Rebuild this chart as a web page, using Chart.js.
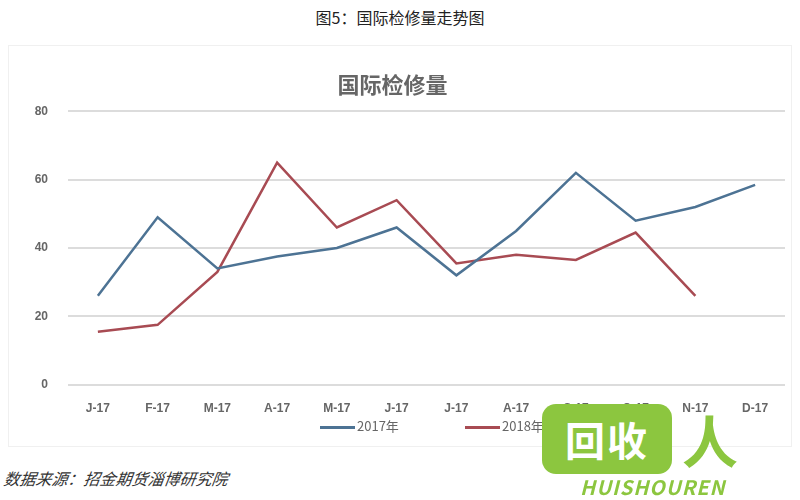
<!DOCTYPE html>
<html><head><meta charset="utf-8">
<script src="https://cdn.jsdelivr.net/npm/chart.js@4/dist/chart.umd.min.js"></script>
<style>
html,body{margin:0;padding:0;background:#fff;width:800px;height:500px;overflow:hidden;font-family:"Noto Sans CJK SC","Noto Sans",sans-serif;}
#hdr{position:absolute;left:0;top:5px;width:800px;text-align:center;font-size:16px;color:#222;}
#frame{position:absolute;left:8px;top:45px;width:782px;height:400px;border:1px solid #f0f0f0;}
#wrap{position:absolute;left:0;top:55px;width:800px;height:372px;}
#src{position:absolute;left:4px;top:466px;font-size:16px;font-style:italic;color:#333;transform:skewX(-8deg);}
.lg{position:absolute;top:417px;font-size:13px;color:#666;line-height:18px;}
.lg i{display:inline-block;width:35px;height:3px;vertical-align:middle;margin-right:2px;}
#logo{position:absolute;left:542px;top:404px;width:130px;height:70px;background:#8cc63f;border-radius:14px;color:#fff;font-size:40px;font-weight:bold;line-height:70px;text-align:center;letter-spacing:2px;}
#ren{position:absolute;left:682px;top:398px;font-size:56px;color:#8cc63f;font-weight:bold;}
#hs{position:absolute;left:580px;top:472px;font-size:20px;color:#8cc63f;font-weight:bold;font-style:italic;letter-spacing:1px;}
</style></head>
<body>
<div id="hdr">图5：国际检修量走势图</div>
<div id="frame"></div>
<div id="wrap"><canvas id="c" width="800" height="372"></canvas></div>
<div class="lg" id="lg1" style="left:320px"><i style="background:#4d7394"></i><span></span></div>
<div class="lg" id="lg2" style="left:465px"><i style="background:#a84b53"></i><span></span></div>
<div id="src">数据来源：招金期货淄博研究院</div>
<div id="logo">回收</div>
<div id="ren">人</div>
<div id="hs">HUISHOUREN</div>
<script>
const categories = ["J-17","F-17","M-17","A-17","M-17","J-17","J-17","A-17","S-17","O-17","N-17","D-17"];
const series2017 = [26, 49, 34, 37.5, 40, 46, 32, 45, 62, 48, 52, 58.5];
const series2018 = [15.5, 17.5, 33, 65, 46, 54, 35.5, 38, 36.5, 44.5, 26, null];
const seriesNames = ["2017年", "2018年"];
const seriesColors = ['#4d7394', '#a84b53'];
const yTicks = [0, 20, 40, 60, 80];

document.querySelector('#lg1 span').textContent = seriesNames[0];
document.querySelector('#lg2 span').textContent = seriesNames[1];

new Chart(document.getElementById('c'), {
  type: 'line',
  data: {
    labels: categories,
    datasets: [
      {label: seriesNames[0], data: series2017, borderColor: seriesColors[0], backgroundColor: seriesColors[0], borderWidth: 2.5, pointRadius: 0, tension: 0},
      {label: seriesNames[1], data: series2018, borderColor: seriesColors[1], backgroundColor: seriesColors[1], borderWidth: 2.5, pointRadius: 0, tension: 0}
    ]
  },
  options: {
    responsive: false,
    animation: false,
    layout: {padding: {left: 0, right: 15, top: 0, bottom: 2}},
    plugins: {
      title: {display: true, text: '国际检修量', color: '#666', font: {size: 22, weight: 'bold', family: '"Noto Sans CJK SC"'}, padding: {top: 16, bottom: 14}},
      legend: {display: false},
      tooltip: {enabled: false}
    },
    scales: {
      x: {
        offset: true,
        grid: {display: false},
        border: {display: false},
        ticks: {color: '#666', font: {size: 12, weight: 'bold'}, maxRotation: 0, autoSkip: false, padding: 9}
      },
      y: {
        min: 0, max: 80,
        afterBuildTicks: s => { s.ticks = yTicks.map(v => ({value: v})); },
        afterFit: s => { s.width = 68; },
        grid: {color: '#dcdcdc', lineWidth: 2, drawTicks: false},
        border: {display: false},
        ticks: {color: '#666', font: {size: 12, weight: 'bold'}, padding: 20}
      }
    }
  }
});
</script>
</body></html>
